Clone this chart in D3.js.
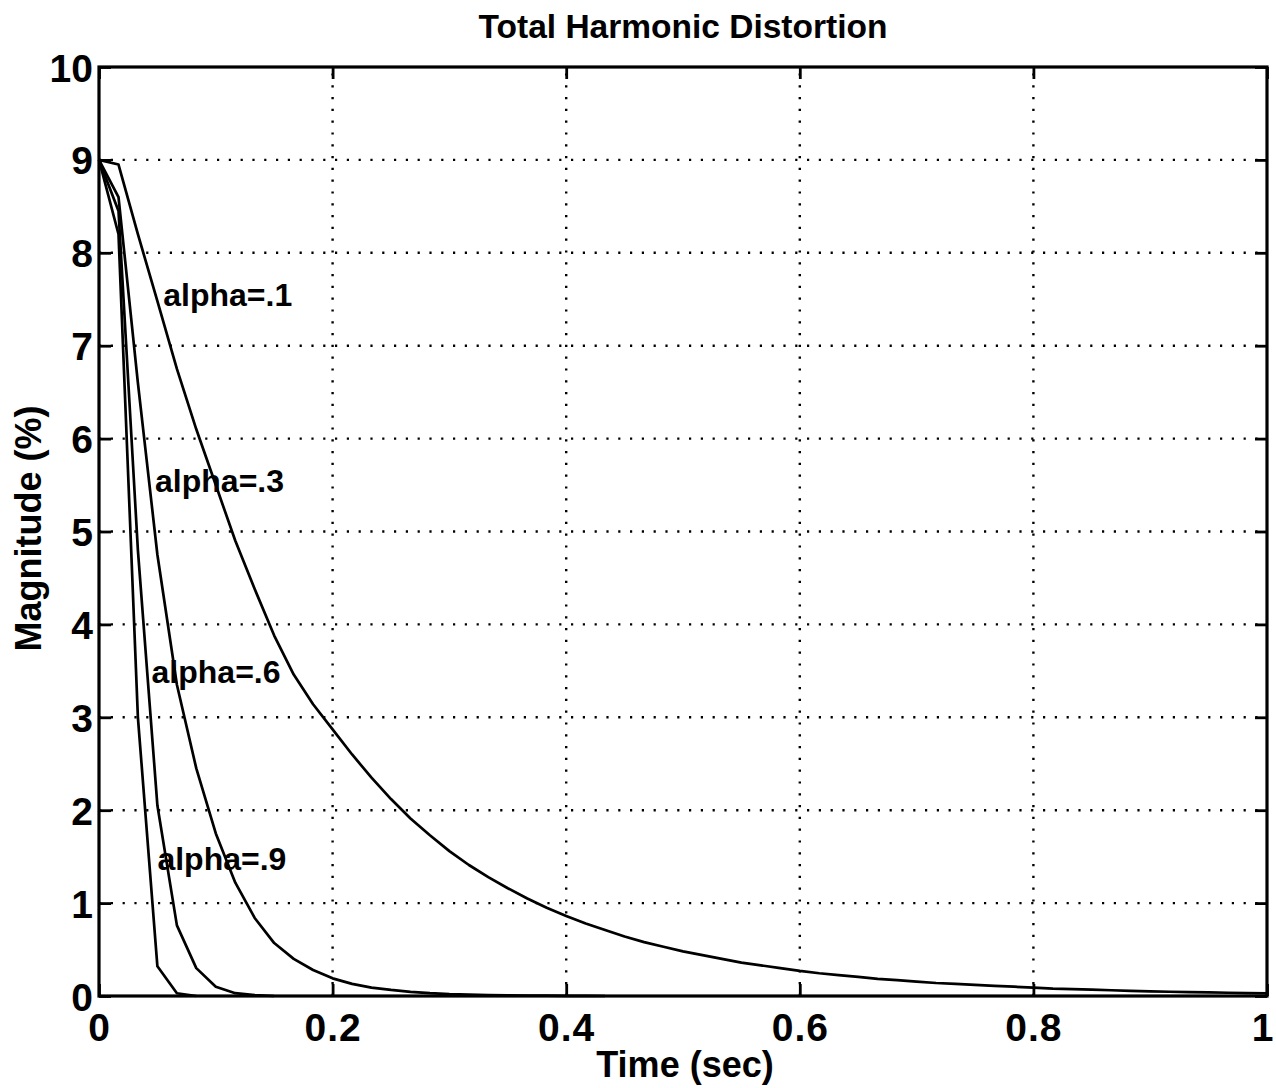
<!DOCTYPE html>
<html>
<head>
<meta charset="utf-8">
<script src="https://cdn.jsdelivr.net/npm/d3@7"></script>
<style>
  html, body { margin: 0; padding: 0; background: #fff; }
  svg { display: block; }
  text { font-family: "Liberation Sans", Arial, Helvetica, sans-serif; fill: #000; }
</style>
</head>
<body>
<svg id="chart" width="1276" height="1088"></svg>
<script>
// ---- data (sampled every 1/60 s) ----
const timeSec = [0, 0.0167, 0.0333, 0.05, 0.0667, 0.0833, 0.1, 0.1167, 0.1333, 0.15,
  0.1667, 0.1833, 0.2, 0.2167, 0.2333, 0.25, 0.2667, 0.2833, 0.3, 0.3167,
  0.3333, 0.35, 0.3667, 0.3833, 0.4, 0.4167, 0.4333, 0.45, 0.4667, 0.4833,
  0.5, 0.5167, 0.5333, 0.55, 0.5667, 0.5833, 0.6, 0.6167, 0.6333, 0.65,
  0.6667, 0.6833, 0.7, 0.7167, 0.7333, 0.75, 0.7667, 0.7833, 0.8, 0.8167,
  0.8333, 0.85, 0.8667, 0.8833, 0.9, 0.9167, 0.9333, 0.95, 0.9667, 0.9833, 1.0];

const alpha01 = [9.00, 8.95, 8.20, 7.48, 6.75, 6.10, 5.50, 4.90, 4.38, 3.88,
  3.46, 3.14, 2.87, 2.60, 2.35, 2.12, 1.91, 1.73, 1.56, 1.41,
  1.28, 1.16, 1.05, 0.95, 0.86, 0.78, 0.71, 0.64, 0.58, 0.53,
  0.48, 0.44, 0.40, 0.36, 0.33, 0.30, 0.27, 0.245, 0.225, 0.205,
  0.185, 0.17, 0.155, 0.14, 0.13, 0.12, 0.11, 0.10, 0.09, 0.08,
  0.075, 0.068, 0.062, 0.056, 0.05, 0.046, 0.042, 0.038, 0.035, 0.032, 0.029];
const alpha03 = [9.00, 8.60, 6.60, 4.75, 3.35, 2.45, 1.75, 1.22, 0.84, 0.57,
  0.40, 0.28, 0.19, 0.13, 0.09, 0.065, 0.045, 0.03, 0.02, 0.015,
  0.01, 0.007, 0.005, 0.003, 0.002, 0.001, 0.0];
const alpha06 = [9.00, 8.45, 4.80, 2.05, 0.76, 0.30, 0.10, 0.03, 0.01, 0.0];
const alpha09 = [9.00, 8.20, 3.00, 0.32, 0.03, 0.0];

const seriesNames = ["alpha=.1", "alpha=.3", "alpha=.6", "alpha=.9"];
const seriesValues = [alpha01, alpha03, alpha06, alpha09];

// label anchor points (data coordinates)
const labelTime = [0.055, 0.048, 0.045, 0.050];
const labelValue = [7.43, 5.43, 3.37, 1.36];

const xTicks = [0, 0.2, 0.4, 0.6, 0.8, 1];
const xTickLabels = ["0", "0.2", "0.4", "0.6", "0.8", "1"];
const yTicks = [0, 1, 2, 3, 4, 5, 6, 7, 8, 9, 10];
const yTickLabels = ["0", "1", "2", "3", "4", "5", "6", "7", "8", "9", "10"];

const titleText = "Total Harmonic Distortion";
const xLabelText = "Time (sec)";
const yLabelText = "Magnitude (%)";

// ---- layout ----
const svg = d3.select("#chart");
const L = 99, R = 1267, T = 67, B = 996;
const x = d3.scaleLinear().domain([0, 1]).range([L, R]);
const y = d3.scaleLinear().domain([0, 10]).range([B, T]);

// grid
const grid = svg.append("g").attr("stroke", "#000").attr("stroke-width", 2.4)
  .attr("stroke-dasharray", "2.2,9.6").attr("fill", "none");
grid.selectAll("line.gx").data(xTicks.filter(d => d > 0 && d < 1)).enter().append("line")
  .attr("x1", d => x(d)).attr("x2", d => x(d)).attr("y1", B).attr("y2", T);
grid.selectAll("line.gy").data(yTicks.filter(d => d > 0 && d < 10)).enter().append("line")
  .attr("x1", L).attr("x2", R).attr("y1", d => y(d)).attr("y2", d => y(d));

// axes (ticks inward on all four sides)
const tickLen = 12;
const tickFont = 39;
const axB = svg.append("g").attr("transform", `translate(0,${B})`)
  .call(d3.axisBottom(x).tickValues(xTicks).tickSize(-tickLen).tickFormat((d, i) => xTickLabels[i]).tickPadding(17));
const axT = svg.append("g").attr("transform", `translate(0,${T})`)
  .call(d3.axisTop(x).tickValues(xTicks).tickSize(-tickLen).tickFormat(""));
const axL = svg.append("g").attr("transform", `translate(${L},0)`)
  .call(d3.axisLeft(y).tickValues(yTicks).tickSize(-tickLen).tickFormat((d, i) => yTickLabels[i]).tickPadding(6));
const axR = svg.append("g").attr("transform", `translate(${R},0)`)
  .call(d3.axisRight(y).tickValues(yTicks).tickSize(-tickLen).tickFormat(""));

[axB, axT, axL, axR].forEach(a => {
  a.select(".domain").remove();
  a.selectAll(".tick line").attr("stroke", "#000").attr("stroke-width", 2.8);
  a.selectAll(".tick text").attr("font-size", tickFont).attr("font-weight", "bold").attr("fill", "#000")
    .attr("font-family", "Liberation Sans, Arial, sans-serif");
});
axB.selectAll(".tick text").attr("letter-spacing", "1px");
// keep the last x label inside the picture
axB.selectAll(".tick text").filter(d => d === 1).attr("x", -5).attr("letter-spacing", null);
axL.selectAll(".tick text").attr("dy", "0.36em");

// frame
svg.append("rect").attr("x", L).attr("y", T).attr("width", R - L).attr("height", B - T)
  .attr("fill", "none").attr("stroke", "#000").attr("stroke-width", 3.2);

// curves
const line = d3.line().x((d, i) => x(timeSec[i])).y(d => y(d));
svg.append("g").selectAll("path").data(seriesValues).enter().append("path")
  .attr("d", d => line(d)).attr("fill", "none").attr("stroke", "#000")
  .attr("stroke-width", 2.7).attr("stroke-linejoin", "round");

// curve labels
svg.append("g").selectAll("text").data(seriesNames).enter().append("text")
  .attr("x", (d, i) => x(labelTime[i])).attr("y", (d, i) => y(labelValue[i]))
  .attr("font-size", 32).attr("font-weight", "bold").text(d => d);

// title & axis labels
svg.append("text").attr("x", (L + R) / 2).attr("y", 38).attr("text-anchor", "middle")
  .attr("font-size", 33.5).attr("font-weight", "bold").text(titleText);
svg.append("text").attr("x", (L + R) / 2 + 2).attr("y", 1077).attr("text-anchor", "middle")
  .attr("font-size", 36).attr("font-weight", "bold").text(xLabelText);
svg.append("text").attr("transform", `translate(41,${(T + B) / 2 - 3}) rotate(-90)`)
  .attr("text-anchor", "middle").attr("font-size", 36).attr("font-weight", "bold").text(yLabelText);
</script>
</body>
</html>
